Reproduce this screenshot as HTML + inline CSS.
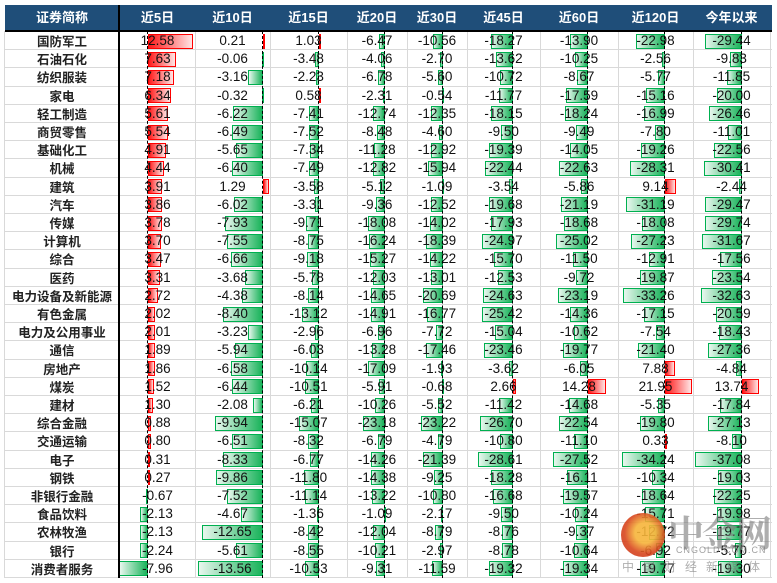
<!DOCTYPE html>
<html><head><meta charset="utf-8">
<style>
body{margin:0;width:777px;height:583px;background:#fff;overflow:hidden;position:relative;font-family:"Liberation Sans","Noto Sans CJK SC",sans-serif;}
.a{position:absolute;}
.hd{position:absolute;left:5px;top:5px;width:767px;height:26px;background:#1f4e79;}
.ht{position:absolute;top:5px;height:26px;line-height:26px;color:#fff;font-weight:bold;font-size:13px;text-align:center;}
.nm{position:absolute;left:5px;width:114px;text-align:center;font-size:12.5px;font-weight:bold;color:#222;font-family:"Noto Sans CJK SC","WenQuanYi Zen Hei",sans-serif;}
.v{position:absolute;text-align:center;font-size:13.5px;color:#111;}
.bp{position:absolute;box-sizing:border-box;border:1px solid #ff0000;background:linear-gradient(to right,#ff1a1a,#ffe5e5);}
.bn{position:absolute;box-sizing:border-box;border:1px solid #00b050;background:linear-gradient(to left,#19b35a,#e8f7ee);}
.hl{position:absolute;left:5px;width:767px;height:1px;background:#d9d9d9;}
.vl{position:absolute;top:31px;width:1px;height:547px;background:#d9d9d9;}
.ax{position:absolute;top:31px;width:0;height:547px;border-left:1.5px dashed #000;}
</style></head><body>
<div class="hd"></div>
<div id="root"></div>
<script>
var names=["国防军工","石油石化","纺织服装","家电","轻工制造","商贸零售","基础化工","机械","建筑","汽车","传媒","计算机","综合","医药","电力设备及新能源","有色金属","电力及公用事业","通信","房地产","煤炭","建材","综合金融","交通运输","电子","钢铁","非银行金融","食品饮料","农林牧渔","银行","消费者服务"];
var d=[
[12.58,0.21,1.03,-6.47,-10.56,-18.27,-13.90,-22.98,-29.44],
[7.63,-0.06,-3.48,-4.06,-2.70,-13.62,-10.25,-2.56,-9.83],
[7.18,-3.16,-2.23,-6.78,-5.60,-10.72,-8.67,-5.77,-11.85],
[6.34,-0.32,0.58,-2.31,-0.54,-11.77,-17.59,-15.16,-20.00],
[5.61,-6.22,-7.41,-12.74,-12.35,-18.15,-18.24,-16.99,-26.46],
[5.54,-6.49,-7.52,-8.48,-4.60,-9.50,-9.49,-7.80,-11.01],
[4.91,-5.65,-7.34,-11.28,-12.92,-19.39,-14.05,-19.26,-22.56],
[4.44,-6.40,-7.49,-12.82,-15.94,-22.44,-22.63,-28.31,-30.41],
[3.91,1.29,-3.58,-5.12,-1.09,-3.54,-5.86,9.14,-2.44],
[3.86,-6.02,-3.31,-9.36,-12.52,-19.68,-21.19,-31.19,-29.47],
[3.78,-7.93,-9.71,-18.08,-14.02,-17.93,-18.68,-18.08,-29.74],
[3.70,-7.55,-8.75,-16.24,-18.39,-24.97,-25.02,-27.23,-31.67],
[3.47,-6.66,-9.18,-15.27,-14.22,-15.70,-11.50,-12.91,-17.56],
[3.31,-3.68,-5.78,-12.03,-13.01,-12.53,-9.72,-19.87,-23.54],
[2.72,-4.38,-8.14,-14.65,-20.69,-24.63,-23.19,-33.26,-32.63],
[2.02,-8.40,-13.12,-14.91,-16.77,-25.42,-14.36,-17.15,-20.59],
[2.01,-3.23,-2.96,-6.96,-7.72,-15.04,-10.62,-7.54,-18.43],
[1.89,-5.94,-6.03,-13.28,-17.46,-23.46,-19.77,-21.40,-27.36],
[1.86,-6.58,-10.14,-17.09,-1.93,-3.62,-6.05,7.88,-4.84],
[1.52,-6.44,-10.51,-5.91,-0.68,2.66,14.28,21.95,13.74],
[1.30,-2.08,-6.21,-10.26,-5.52,-11.42,-14.68,-5.35,-17.84],
[0.88,-9.94,-15.07,-23.18,-23.22,-26.70,-22.54,-19.80,-27.13],
[0.80,-6.51,-8.32,-6.79,-4.79,-10.80,-11.10,0.33,-8.10],
[0.31,-8.33,-6.77,-14.26,-21.39,-28.61,-27.52,-34.24,-37.08],
[0.27,-9.86,-11.80,-14.38,-9.25,-18.28,-16.11,-10.34,-19.03],
[-0.67,-7.52,-11.14,-13.22,-10.80,-16.68,-19.57,-18.64,-22.25],
[-2.13,-4.67,-1.36,-1.09,-2.17,-9.50,-10.24,-15.71,-19.98],
[-2.13,-12.65,-8.42,-12.04,-8.79,-8.76,-9.37,-12.72,-19.77],
[-2.24,-5.61,-8.55,-10.21,-2.97,-8.78,-10.64,-6.92,-5.70],
[-7.96,-13.56,-10.53,-9.31,-11.59,-19.32,-19.34,-19.77,-19.30]];
var heads=["近5日","近10日","近15日","近20日","近30日","近45日","近60日","近120日","今年以来"];
var bnd=[120,195,270,347,407,467,540,618,693,770];
var axis=[148,263,319,385,443,513,588,665,742];
var sc=[3.6,4.8,1.3,0.97,0.95,1.23,1.28,1.25,1.26];
var h='';
h+='<div class="ht" style="left:5px;width:114px">证券简称</div>';
for(var c=0;c<9;c++){h+='<div class="ht" style="left:'+bnd[c]+'px;width:'+(bnd[c+1]-bnd[c])+'px">'+heads[c]+'</div>';}
var top0=32,rh=18.2;
for(var r=0;r<=30;r++){h+='<div class="hl" style="top:'+(top0+r*rh-1).toFixed(1)+'px"></div>';}
h+='<div class="vl" style="left:4px"></div>';
for(var c=1;c<10;c++){h+='<div class="vl" style="left:'+bnd[c]+'px"></div>';}
for(var r=0;r<30;r++){
 var y=top0+r*rh;
 h+='<div class="nm" style="top:'+y.toFixed(1)+'px;height:18px;line-height:18px">'+names[r]+'</div>';
 for(var c=0;c<9;c++){
  var v=d[r][c],L=Math.max(1.5,Math.abs(v)*sc[c]);
  var bt=(y+1.5).toFixed(1);
  if(v>=0)h+='<div class="bp" style="left:'+axis[c]+'px;top:'+bt+'px;width:'+L.toFixed(1)+'px;height:15px"></div>';
  else h+='<div class="bn" style="left:'+(axis[c]-L).toFixed(1)+'px;top:'+bt+'px;width:'+L.toFixed(1)+'px;height:15px"></div>';
  h+='<div class="v" style="left:'+bnd[c]+'px;width:'+(bnd[c+1]-bnd[c])+'px;top:'+y.toFixed(1)+'px;height:18px;line-height:18px">'+v.toFixed(2)+'</div>';
 }
}
for(var c=0;c<9;c++){h+='<div class="ax" style="left:'+(axis[c]-1)+'px"></div>';}
h+='<div class="a" style="left:118px;top:5px;width:2px;height:573px;background:#000"></div>';
h+='<div class="a" style="left:5px;top:30px;width:767px;height:1.5px;background:#000"></div>';
document.getElementById('root').innerHTML=h;
</script>
<div class="a" style="left:621px;top:513px;width:44px;height:44px;border-radius:50%;background:radial-gradient(circle at 55% 45%,#f6b53a 0 30%,#d8461e 60%,#c8321a);opacity:0.9"></div>
<div class="a" style="left:668px;top:506px;font-size:36px;font-weight:bold;color:rgba(120,120,120,0.6);font-family:'Noto Serif CJK SC',serif;letter-spacing:-2px">中金网</div>
<div class="a" style="left:676px;top:545px;font-size:9px;color:rgba(120,120,120,0.7);letter-spacing:1px">CNGOLD.COM.CN</div>
<div class="a" style="left:622px;top:558px;font-size:12px;color:rgba(120,120,120,0.6);letter-spacing:9px;font-family:'Noto Sans CJK SC',sans-serif">中国财经新媒体</div>
</body></html>
